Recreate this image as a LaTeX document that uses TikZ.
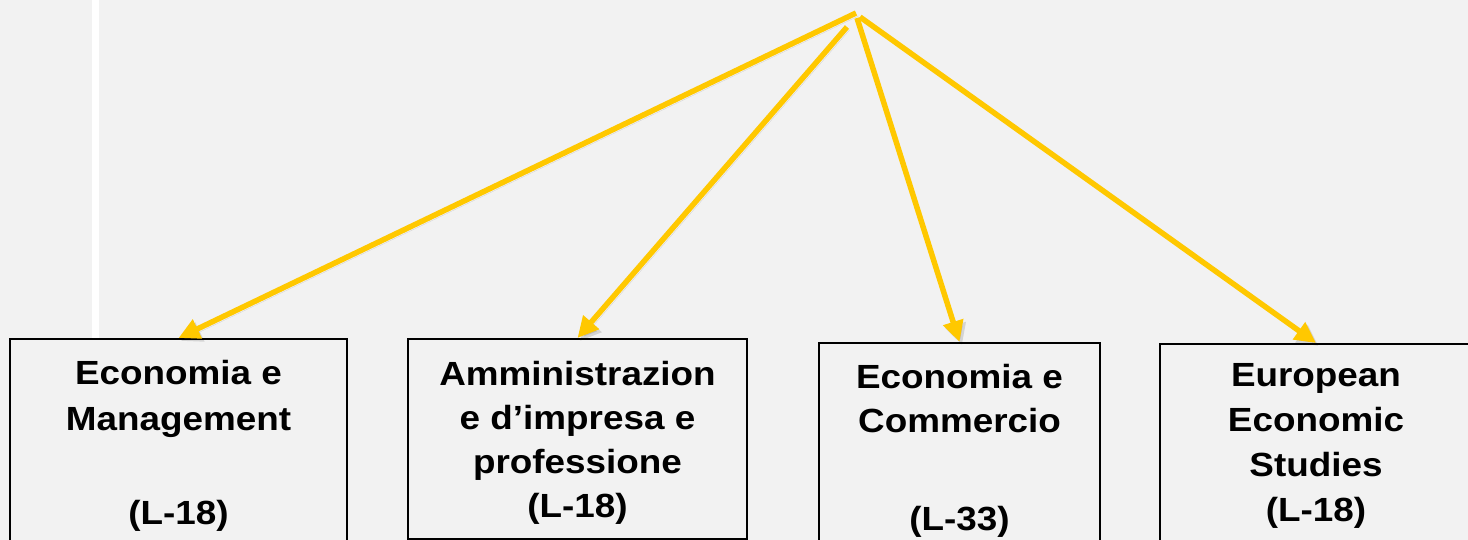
\documentclass[tikz,border=0pt]{standalone}
\usepackage{fontspec}
\setmainfont{Liberation Sans}[FakeStretch=1.1]
\usetikzlibrary{arrows.meta}
\definecolor{bg}{HTML}{F2F2F2}
\definecolor{gold}{HTML}{FFC800}
\begin{document}
\begin{tikzpicture}[x=1pt,y=-1pt,
  box/.style={draw=black, line width=1.6pt, fill=bg, rectangle, anchor=north, inner sep=0pt},
  lbl/.style={align=center, anchor=north, inner sep=0pt, text=black},
  arr/.style={draw=gold, line width=5.5pt, -{Triangle[length=21pt,width=20pt]},
    preaction={draw=black, opacity=0.12, transform canvas={shift={(2.5pt,-3pt)}}}}
]
\useasboundingbox (0,0) rectangle (1468,540);
\clip (0,0) rectangle (1468,540);
\fill[bg] (0,0) rectangle (1468,540);
\fill[white] (92,0) rectangle (99,338);

\node[box, minimum width=337pt, minimum height=220pt] (b1) at (178.5,338) {};
\node[box, minimum width=339pt, minimum height=200pt] (b2) at (577.5,338) {};
\node[box, minimum width=281pt, minimum height=220pt] (b3) at (959.5,342) {};
\node[box, minimum width=400pt, minimum height=220pt] (b4) at (1360,343) {};

\node[lbl, font=\bfseries\fontsize{33.5}{46}\selectfont] (t1) at (178.5,360) {Economia e\\Management\\[48pt](L-18)};
\node[lbl, font=\bfseries\fontsize{33.5}{44}\selectfont] (t2) at (577.5,361) {Amministrazion\\e d’impresa e\\professione\\(L-18)};
\node[lbl, font=\bfseries\fontsize{33.5}{44}\selectfont] (t3) at (959.5,364) {Economia e\\Commercio\\[54pt](L-33)};
\node[lbl, font=\bfseries\fontsize{33.5}{45}\selectfont] (t4) at (1316,363) {European\\Economic\\Studies\\(L-18)};

\coordinate (s1) at (856,13);
\coordinate (s2) at (847,27);
\coordinate (s3) at (857,18);
\coordinate (s4) at (860,17);
\coordinate (e4) at (1316,343);

\draw[arr] (s1) -- (b1.north);
\draw[arr] (s2) -- (b2.north);
\draw[arr] (s3) -- (b3.north);
\draw[arr] (s4) -- (e4);
\end{tikzpicture}
\end{document}
